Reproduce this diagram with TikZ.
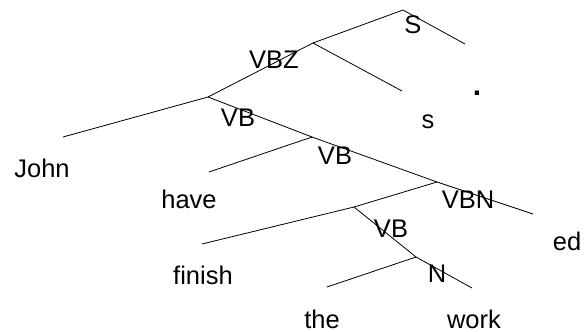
\documentclass[tikz,border=0pt]{standalone}
\usepackage{fontspec}
\setmainfont{Liberation Sans}
\begin{document}
\begin{tikzpicture}[x=1pt, y=-1pt, line width=0.8pt,
		lbl/.style={anchor=base, inner sep=0pt, font=\fontsize{25.5}{30}\selectfont}]
		\useasboundingbox (0,0) rectangle (587,332);
		% junctions
		\coordinate (s) at (403,10);
		\coordinate (vbz) at (313,43);
		\coordinate (vb1) at (208,97);
		\coordinate (vb2) at (312,137);
		\coordinate (vbn) at (437,182);
		\coordinate (vb3) at (354,207);
		\coordinate (n) at (416,257);
		% leaf ends
		\coordinate (dotend) at (465,44);
		\coordinate (send) at (402,91);
		\coordinate (johnend) at (63,137);
		\coordinate (haveend) at (209,172);
		\coordinate (edend) at (533,214);
		\coordinate (finishend) at (202,244);
		\coordinate (theend) at (327,287);
		\coordinate (workend) at (472,288);
		\draw (vbz) -- (s) -- (dotend);
		\draw (vb1) -- (vbz) -- (send);
		\draw (johnend) -- (vb1) -- (vb2);
		\draw (haveend) -- (vb2) -- (vbn);
		\draw (vb3) -- (vbn) -- (edend);
		\draw (finishend) -- (vb3) -- (n);
		\draw (theend) -- (n) -- (workend);
		% labels
		\node[lbl] (ls) at (413,33) {S};
		\node[lbl] (lvbz) at (274,68) {VBZ};
		\node[lbl] (lvb1) at (238,126) {VB};
		\node[lbl] (lvb2) at (335,164) {VB};
		\node[lbl] (lvbn) at (468,208) {VBN};
		\node[lbl] (lvb3) at (391,237) {VB};
		\node[lbl] (ln) at (437,282) {N};
		\node[lbl, font=\fontsize{30}{34}\selectfont\bfseries] (dot) at (477,95) {.};
		\node[lbl] (sfx) at (428,128) {s};
		\node[lbl] (john) at (42,177) {John};
		\node[lbl] (have) at (189,208) {have};
		\node[lbl] (ed) at (567,250) {ed};
		\node[lbl] (finish) at (203,284) {finish};
		\node[lbl] (the) at (322,328) {the};
		\node[lbl] (work) at (474,328) {work};
	\end{tikzpicture}
\end{document}
